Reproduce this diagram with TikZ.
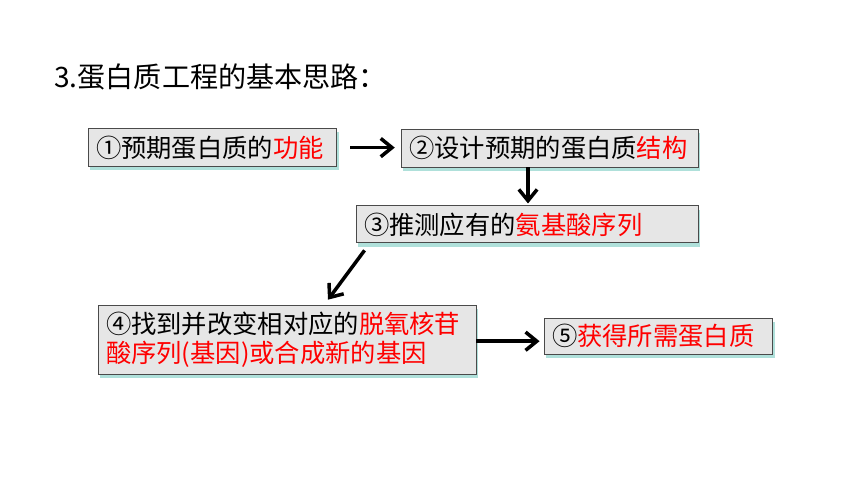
\documentclass[tikz,border=0pt]{standalone}
\usepackage{fontspec}
\setmainfont{Noto Sans CJK SC}
\usetikzlibrary{arrows.meta, positioning, shadows}
\definecolor{boxgray}{HTML}{E6E6E6}
\definecolor{boxline}{HTML}{4A4A4A}
\definecolor{glow}{HTML}{A6DDD6}
\tikzset{
  stepbox/.style={draw=boxline, line width=0.6pt, fill=boxgray, inner ysep=0pt, inner xsep=0.2cm,
    minimum height=#1, align=left, font=\fontsize{18}{20.6}\selectfont,
    drop shadow={shadow xshift=1.4pt, shadow yshift=-2.6pt, fill=glow, opacity=0.9}},
  stepbox/.default=0.95cm,
  flow/.style={line width=2.5pt, -{Straight Barb[length=8pt, width=13pt, line width=2.5pt]}}
}
\newcommand{\hl}[1]{\textcolor{red}{#1}}
\begin{document}
\begin{tikzpicture}
\useasboundingbox (0,0) rectangle (21.5,-12.1);
%title
\node[anchor=west, inner sep=0pt, font=\fontsize{20}{24}\selectfont] (title) at (1.35,-1.93) {3.蛋白质工程的基本思路：};
%boxes
\node[stepbox, text width=5.82cm] (func) at (5.31,-3.69) {①预期蛋白质的\hl{功能}};
\node[stepbox, text width=7.02cm] (struct) at (13.74,-3.70) {②设计预期的蛋白质\hl{结构}};
\node[stepbox=0.925cm, text width=8.15cm] (amino) at (13.175,-5.61) {③推测应有的\hl{氨基酸序列}};
\node[stepbox=1.725cm, text width=9.05cm] (gene) at (7.175,-8.49) {④找到并改变相对应的\hl{脱氧核苷}\\\hl{酸序列(基因)或合成新的基因}};
\node[stepbox=0.9cm, text width=5.32cm] (prot) at (16.46,-8.40) {⑤\hl{获得所需蛋白质}};
%arrows
\draw[flow, shorten <=0.33cm, shorten >=0.15cm] (func.east) -- (func.east -| struct.west);
\draw[flow, shorten >=0.05cm] ([xshift=-0.54cm]struct.south) -- ([xshift=-0.54cm]struct.south |- amino.north);
\draw[flow] ([xshift=0.225cm,yshift=-0.175cm]amino.south west) -- ([xshift=1.025cm,yshift=0.125cm]gene.north);
\draw[flow, shorten >=0.1cm] ([yshift=-0.04cm]gene.east) -- ([yshift=-0.04cm]gene.east -| prot.west);
\end{tikzpicture}
\end{document}
